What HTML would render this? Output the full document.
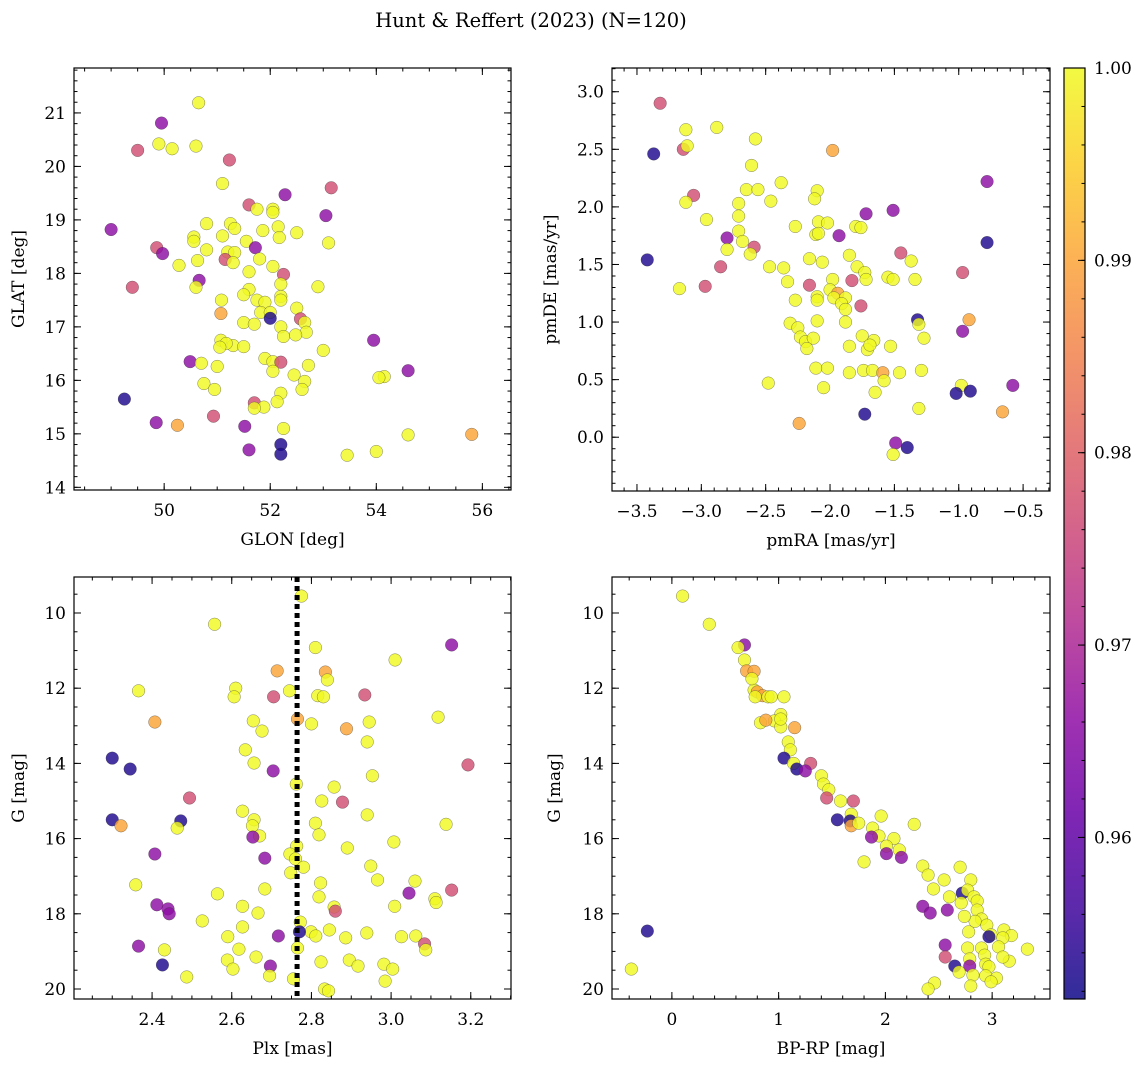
<!DOCTYPE html>
<html><head><meta charset="utf-8">
<style>
html,body{margin:0;padding:0;background:#fff;}
svg{display:block;font-family:"DejaVu Serif","Liberation Serif",serif;}
</style></head>
<body>
<svg id="chart" width="1148" height="1067" viewBox="0 0 1148 1067" xmlns="http://www.w3.org/2000/svg">
<defs>
<linearGradient id="plasmaGrad" x1="0" y1="1" x2="0" y2="0">
<stop offset="0" stop-color="#0d0887"/><stop offset="0.1" stop-color="#41049d"/><stop offset="0.2" stop-color="#6a00a8"/><stop offset="0.3" stop-color="#8f0da4"/><stop offset="0.4" stop-color="#b12a90"/><stop offset="0.5" stop-color="#cc4778"/><stop offset="0.6" stop-color="#e16462"/><stop offset="0.7" stop-color="#f2844b"/><stop offset="0.8" stop-color="#fca636"/><stop offset="0.9" stop-color="#fcce25"/><stop offset="1" stop-color="#f0f921"/>
</linearGradient>
</defs>
<text x="531" y="27" font-size="19.5" text-anchor="middle">Hunt &amp; Reffert (2023) (N=120)</text>
</svg>
<script>
// ---- Panel 1: GLON / GLAT ----
const glon=[49.95,50.65,49.9,49.5,50.15,50.6,51.23,49.0,53.15,52.28,51.1,53.05,51.6,51.75,52.05,52.05,51.25,50.8,51.33,52.15,51.86,52.5,51.1,50.56,50.56,52.17,51.55,53.1,50.8,49.86,49.97,51.72,51.2,51.33,50.63,51.15,51.3,51.8,50.28,52.05,52.25,51.6,50.66,52.2,49.4,50.6,52.9,51.6,51.5,52.2,51.75,51.08,51.9,52.2,52.5,51.82,52.0,51.07,52.57,52.0,52.65,51.5,51.7,52.2,52.68,51.07,52.48,52.25,51.3,51.17,51.05,51.5,53.0,50.49,50.7,51.9,52.05,52.2,52.72,51.0,52.05,53.95,54.6,54.15,54.05,52.45,52.65,50.75,52.6,50.95,52.2,49.25,51.7,52.13,51.88,51.7,50.93,50.25,49.85,51.52,52.25,54.6,55.8,52.2,51.6,54.0,53.45,52.2];
const glat=[20.81,21.19,20.42,20.3,20.33,20.38,20.12,18.82,19.6,19.47,19.68,19.08,19.28,19.2,19.2,19.14,18.93,18.93,18.84,18.87,18.8,18.76,18.7,18.68,18.6,18.67,18.6,18.57,18.44,18.48,18.37,18.48,18.4,18.39,18.24,18.26,18.2,18.27,18.15,18.13,17.98,18.03,17.87,17.8,17.74,17.74,17.75,17.7,17.6,17.57,17.5,17.5,17.46,17.5,17.35,17.27,17.27,17.25,17.15,17.16,17.08,17.08,17.05,17.0,16.9,16.75,16.85,16.82,16.65,16.69,16.62,16.63,16.56,16.35,16.32,16.41,16.35,16.34,16.28,16.26,16.17,16.75,16.18,16.07,16.05,16.1,15.98,15.94,15.83,15.83,15.76,15.65,15.58,15.6,15.5,15.48,15.33,15.16,15.21,15.14,15.1,14.98,14.99,14.8,14.7,14.67,14.6,14.62];
const prob1=[.966,1,1,.977,1,1,.977,.966,.977,.966,1,.966,.977,1,1,1,1,1,1,1,1,1,1,1,1,1,1,1,1,.977,.966,.966,1,1,1,.977,1,1,1,1,.977,1,.966,1,.977,1,1,1,1,1,1,1,1,1,1,1,1,.99,.977,.953,1,1,1,1,1,1,1,1,1,1,1,1,1,.966,1,1,1,.977,1,1,1,.966,.966,1,1,1,1,1,1,1,1,.953,.977,1,1,1,.977,.99,.966,.966,1,1,.99,.953,.966,1,1,.953];
// ---- Panel 2: pmRA / pmDE ----
const pmra=[-3.32,-3.37,-3.12,-2.88,-3.14,-3.11,-2.58,-1.98,-2.61,-2.38,-2.65,-2.56,-2.10,-2.12,-3.06,-3.12,-2.71,-2.46,-0.78,-1.72,-1.51,-2.96,-2.71,-2.27,-2.09,-2.02,-1.80,-1.76,-2.11,-2.09,-2.71,-2.80,-2.68,-1.93,-0.78,-2.59,-2.80,-2.62,-1.45,-3.42,-2.47,-2.36,-2.16,-2.06,-1.85,-1.79,-1.37,-2.85,-1.73,-1.72,-0.97,-2.33,-1.98,-1.83,-1.55,-1.51,-1.34,-3.17,-2.97,-2.16,-2.00,-1.94,-2.10,-2.27,-2.10,-1.97,-1.88,-1.91,-1.76,-1.88,-2.31,-2.25,-2.10,-1.88,-1.32,-1.31,-0.92,-0.97,-2.23,-2.19,-2.13,-2.18,-1.75,-1.66,-1.71,-1.85,-1.69,-1.53,-1.27,-2.11,-2.02,-1.85,-1.74,-1.67,-1.59,-1.58,-1.46,-1.29,-2.48,-2.05,-1.65,-0.98,-1.02,-0.91,-0.58,-1.31,-0.66,-1.73,-2.24,-1.49,-1.40,-1.51];
const pmde=[2.90,2.46,2.67,2.69,2.50,2.53,2.59,2.49,2.36,2.21,2.15,2.15,2.14,2.07,2.10,2.04,2.03,2.05,2.22,1.94,1.97,1.89,1.92,1.83,1.87,1.86,1.83,1.82,1.76,1.77,1.79,1.73,1.70,1.75,1.69,1.65,1.63,1.59,1.60,1.54,1.48,1.47,1.55,1.52,1.58,1.48,1.53,1.48,1.43,1.37,1.43,1.35,1.37,1.36,1.39,1.37,1.37,1.29,1.31,1.32,1.28,1.25,1.22,1.19,1.19,1.21,1.21,1.16,1.14,1.11,0.99,0.95,1.01,1.00,1.02,0.98,1.02,0.92,0.87,0.83,0.86,0.77,0.88,0.84,0.76,0.79,0.80,0.79,0.86,0.60,0.60,0.56,0.58,0.58,0.56,0.49,0.56,0.58,0.47,0.43,0.39,0.45,0.38,0.40,0.45,0.25,0.22,0.20,0.12,-0.05,-0.09,-0.15];
const prob2=[.977,.953,1,1,.977,1,1,.99,1,1,1,1,1,1,.977,1,1,1,.966,.966,.966,1,1,1,1,1,1,1,1,1,1,.966,1,.966,.953,.977,1,1,.977,.953,1,1,1,1,1,1,1,.977,1,1,.977,1,1,.977,1,1,1,1,.977,.977,1,.99,1,1,1,1,1,1,.977,1,1,1,1,1,.953,1,.99,.966,1,1,1,1,1,1,1,1,1,1,1,1,1,1,1,1,.99,1,1,1,1,1,1,1,.953,.953,.966,1,.99,.953,.99,.966,.953,1];
// ---- Panel 3: Plx / G ----
const plx=[2.775,2.557,3.152,2.81,3.01,2.714,2.835,2.84,2.61,2.366,2.745,2.816,2.83,2.705,2.606,2.934,3.118,2.765,2.654,2.407,2.945,2.8,2.676,2.888,2.94,2.634,2.30,2.656,3.193,2.345,2.704,2.953,2.762,2.857,2.494,2.826,2.878,2.627,2.94,2.656,2.30,2.472,2.322,2.81,2.652,3.138,2.463,2.819,2.67,2.653,3.007,2.763,2.89,2.407,2.746,2.683,2.76,2.78,2.949,2.748,2.966,3.06,2.823,2.359,2.683,3.152,2.564,3.045,2.819,3.11,3.113,2.412,2.627,3.009,2.857,2.44,2.86,2.666,2.443,2.526,2.772,2.627,2.799,2.845,2.939,2.77,2.717,2.59,3.026,3.062,2.886,2.811,2.366,3.084,3.087,2.431,2.618,2.765,2.824,2.895,2.982,2.589,2.661,2.917,3.004,2.426,2.697,2.603,2.487,2.695,2.755,2.985,2.833,2.843];
const gmag3=[9.55,10.3,10.85,10.92,11.25,11.54,11.57,11.78,12.0,12.07,12.07,12.2,12.23,12.23,12.23,12.18,12.77,12.82,12.87,12.9,12.9,12.95,13.14,13.08,13.43,13.64,13.86,13.99,14.04,14.15,14.2,14.33,14.55,14.63,14.92,15.0,15.03,15.27,15.37,15.5,15.5,15.53,15.66,15.59,15.66,15.62,15.72,15.9,15.93,15.96,16.09,16.2,16.25,16.41,16.41,16.52,16.54,16.76,16.73,16.91,17.1,17.13,17.18,17.23,17.34,17.37,17.47,17.45,17.55,17.6,17.7,17.76,17.8,17.8,17.82,17.87,17.93,17.98,18.0,18.19,18.22,18.35,18.48,18.43,18.51,18.48,18.59,18.61,18.61,18.59,18.64,18.59,18.86,18.8,18.96,18.96,18.94,18.91,19.28,19.23,19.34,19.23,19.15,19.39,19.47,19.36,19.39,19.47,19.68,19.65,19.73,19.79,20.0,20.05];
const prob3=[1,1,.966,1,1,.99,.99,1,1,1,1,1,1,.977,1,.977,1,.99,1,.99,1,1,1,.99,1,1,.953,1,.977,.953,.966,1,1,1,.977,1,.977,1,1,1,.953,.953,.99,1,1,1,1,1,1,.966,1,1,1,.966,1,.966,1,1,1,1,1,1,1,1,1,.977,1,.966,1,1,1,.966,1,1,1,.966,.977,1,.966,1,1,1,1,1,1,.953,.966,1,1,1,1,1,.966,.977,1,1,1,1,1,1,1,1,1,1,1,.953,.966,1,1,1,1,1,1,1];
const plxRef=[2.764];
// ---- Panel 4: BP-RP / G ----
const bprp=[0.10,0.35,0.68,0.62,0.68,0.70,0.77,0.77,0.80,0.85,0.78,0.90,0.93,1.05,0.75,1.02,0.83,0.96,1.02,0.88,1.15,1.02,1.09,1.11,1.05,1.14,1.30,1.17,1.25,1.40,1.42,1.47,1.45,1.58,1.70,1.68,1.96,1.55,1.67,1.68,1.75,1.88,2.27,1.94,1.87,2.08,2.01,2.13,2.15,2.01,1.80,2.35,2.70,2.40,2.55,2.80,2.45,2.60,2.35,2.72,2.77,2.83,2.86,2.71,2.58,2.42,2.86,2.90,2.95,2.84,2.74,2.78,2.99,3.11,3.18,3.10,2.97,2.56,2.77,2.90,3.06,3.33,2.93,2.56,2.79,-0.23,3.16,3.10,2.94,2.65,2.79,2.97,2.69,2.82,2.94,3.04,2.99,2.46,-0.38,2.80,2.40];
const gmag4=[9.55,10.3,10.85,10.92,11.25,11.54,11.55,12.05,12.1,12.2,12.23,12.23,12.23,12.23,11.75,12.7,12.92,12.87,13.03,12.85,13.05,12.82,13.43,13.64,13.86,14.0,14.0,14.15,14.2,14.33,14.55,14.7,14.92,15.0,15.0,15.35,15.4,15.5,15.53,15.66,15.59,15.72,15.62,15.93,15.96,16.0,16.2,16.3,16.5,16.4,16.62,16.73,16.76,16.97,17.1,17.1,17.34,17.55,17.8,17.45,17.37,17.55,17.66,17.71,17.9,17.98,17.9,18.14,18.3,18.2,18.07,18.48,18.56,18.43,18.58,18.64,18.61,18.83,18.91,18.91,18.88,18.94,19.1,19.15,19.2,18.46,19.26,19.15,19.34,19.39,19.39,19.41,19.55,19.63,19.65,19.71,19.81,19.84,19.47,19.92,20.0];
const prob4=[1,1,.966,1,1,.99,.99,1,.99,.99,1,1,1,1,1,1,1,1,1,.99,.99,1,1,1,.953,1,.977,.953,.966,1,1,1,.977,1,.977,1,1,.953,.953,.99,1,1,1,1,.966,1,1,1,.966,.966,1,1,1,1,1,1,1,1,.966,.953,1,1,1,1,.966,.966,1,1,1,1,1,1,1,1,1,1,.953,.966,1,1,1,1,1,.977,1,.953,1,1,1,.953,.966,1,1,1,1,1,1,1,1,1,1];
// ---- Colorbar ----
const cbMin=0.9516, cbMax=1.0;
const cbTicks=[0.96,0.97,0.98,0.99,1.00];

const NS="http://www.w3.org/2000/svg";
const svg=document.getElementById('chart');
function mk(tag,attrs,parent){const e=document.createElementNS(NS,tag);for(const k in attrs)e.setAttribute(k,attrs[k]);(parent||svg).appendChild(e);return e;}
const stops=[[0,'#0d0887'],[.1,'#41049d'],[.2,'#6a00a8'],[.3,'#8f0da4'],[.4,'#b12a90'],[.5,'#cc4778'],[.6,'#e16462'],[.7,'#f2844b'],[.8,'#fca636'],[.9,'#fcce25'],[1,'#f0f921']];
function hx(c){return [parseInt(c.slice(1,3),16),parseInt(c.slice(3,5),16),parseInt(c.slice(5,7),16)];}
function plasma(v){let t=(v-cbMin)/(cbMax-cbMin);t=Math.max(0,Math.min(1,t));
 for(let i=1;i<stops.length;i++){if(t<=stops[i][0]){const a=hx(stops[i-1][1]),b=hx(stops[i][1]);const f=(t-stops[i-1][0])/(stops[i][0]-stops[i-1][0]);return 'rgb('+a.map((x,j)=>Math.round(x+(b[j]-x)*f)).join(',')+')';}}
 return stops[stops.length-1][1];}
function fmt(v,d){return (v<0?'\u2212':'')+Math.abs(v).toFixed(d);}
function ticksRange(lo,hi,step){const out=[];const s=Math.ceil(lo/step-1e-9);for(let i=s;i*step<=hi+1e-9;i++)out.push(+(i*step).toFixed(6));return out;}

function panel(o){
 const g=mk('g',{});
 
 
 const sx=v=>o.L+(v-o.x0)/(o.x1-o.x0)*(o.R-o.L);
 const sy=v=>o.T+(v-o.y0)/(o.y1-o.y0)*(o.B-o.T);
 const pts=mk('g',{},g);
 
 
 for(let i=0;i<o.xs.length;i++){
  const c=mk('circle',{cx:sx(o.xs[i]),cy:sy(o.ys[i]),r:6.3,fill:plasma(o.ps[i]),'fill-opacity':0.82,stroke:'#333','stroke-width':0.5,'stroke-opacity':0.6},pts);
  
  
 }
 if(o.vline){const l=mk('line',{x1:sx(o.vline),x2:sx(o.vline),y1:o.T,y2:o.B,stroke:'#000','stroke-width':5,'stroke-dasharray':'5,4'},g);
  
  }
 const fr=mk('rect',{x:o.L,y:o.T,width:o.R-o.L,height:o.B-o.T,fill:'none',stroke:'#000','stroke-width':1.2},g);
 
 
 const tk=mk('g',{stroke:'#000','stroke-width':1},g);
 const xlo=Math.min(o.x0,o.x1),xhi=Math.max(o.x0,o.x1),ylo=Math.min(o.y0,o.y1),yhi=Math.max(o.y0,o.y1);
 ticksRange(xlo,xhi,o.xminor).forEach(v=>{const x=sx(v);mk('line',{x1:x,x2:x,y1:o.B,y2:o.B-3.5},tk);mk('line',{x1:x,x2:x,y1:o.T,y2:o.T+3.5},tk);});
 ticksRange(ylo,yhi,o.yminor).forEach(v=>{const y=sy(v);mk('line',{x1:o.L,x2:o.L+3.5,y1:y,y2:y},tk);mk('line',{x1:o.R,x2:o.R-3.5,y1:y,y2:y},tk);});
 ticksRange(xlo,xhi,o.xmajor).forEach(v=>{const x=sx(v);mk('line',{x1:x,x2:x,y1:o.B,y2:o.B-7},tk);mk('line',{x1:x,x2:x,y1:o.T,y2:o.T+7},tk);
  const t=mk('text',{x:x,y:o.B+26,'font-size':17,'text-anchor':'middle'},g);t.textContent=fmt(v,o.xd);
  });
 ticksRange(ylo,yhi,o.ymajor).forEach(v=>{const y=sy(v);mk('line',{x1:o.L,x2:o.L+7,y1:y,y2:y},tk);mk('line',{x1:o.R,x2:o.R-7,y1:y,y2:y},tk);
  const t=mk('text',{x:o.L-8,y:y+6,'font-size':17,'text-anchor':'end'},g);t.textContent=fmt(v,o.yd);
  });
 const xl=mk('text',{x:(o.L+o.R)/2,y:o.B+55,'font-size':17,'text-anchor':'middle'},g);xl.textContent=o.xlabel;
 
 const yl=mk('text',{x:o.ylx,y:(o.T+o.B)/2,'font-size':17,'text-anchor':'middle',transform:'rotate(-90 '+o.ylx+' '+(o.T+o.B)/2+')'},g);yl.textContent=o.ylabel;
 
}
panel({name:'glon-glat-panel',L:74,R:511,T:68,B:490,x0:48.30,x1:56.54,y0:21.84,y1:13.95,xs:glon,ys:glat,ps:prob1,xmajor:2,xminor:0.5,ymajor:1,yminor:0.2,xd:0,yd:0,xlabel:'GLON [deg]',ylabel:'GLAT [deg]',ylx:24});
panel({name:'proper-motion-panel',L:612,R:1050,T:68,B:491,x0:-3.694,x1:-0.291,y0:3.206,y1:-0.467,xs:pmra,ys:pmde,ps:prob2,xmajor:0.5,xminor:0.1,ymajor:0.5,yminor:0.1,xd:1,yd:1,xlabel:'pmRA [mas/yr]',ylabel:'pmDE [mas/yr]',ylx:556});
panel({name:'parallax-magnitude-panel',L:74,R:511,T:577,B:999,x0:2.204,x1:3.301,y0:9.043,y1:20.266,xs:plx,ys:gmag3,ps:prob3,xmajor:0.2,xminor:0.05,ymajor:2,yminor:0.5,xd:1,yd:0,xlabel:'Plx [mas]',ylabel:'G [mag]',ylx:24,vline:plxRef[0]});
panel({name:'color-magnitude-panel',L:612,R:1050,T:577,B:999,x0:-0.561,x1:3.542,y0:9.043,y1:20.266,xs:bprp,ys:gmag4,ps:prob4,xmajor:1,xminor:0.2,ymajor:2,yminor:0.5,xd:0,yd:0,xlabel:'BP-RP [mag]',ylabel:'G [mag]',ylx:560});

// colorbar
const cb=mk('g',{});


const cT=68,cB=999,cL=1064,cR=1085;
mk('rect',{x:cL,y:cT,width:cR-cL,height:cB-cT,fill:'url(#plasmaGrad)','fill-opacity':0.85,stroke:'#000','stroke-width':1.2},cb);
const cy=v=>cB-(v-cbMin)/(cbMax-cbMin)*(cB-cT);
ticksRange(cbMin,cbMax,0.002).forEach(v=>{mk('line',{x1:cR,x2:cR-3.5,y1:cy(v),y2:cy(v),stroke:'#000'},cb);});
cbTicks.forEach(v=>{mk('line',{x1:cR,x2:cR-7,y1:cy(v),y2:cy(v),stroke:'#000'},cb);
 const t=mk('text',{x:cR+9,y:cy(v)+6,'font-size':17},cb);t.textContent=v.toFixed(2);
 });
</script>
</body></html>
